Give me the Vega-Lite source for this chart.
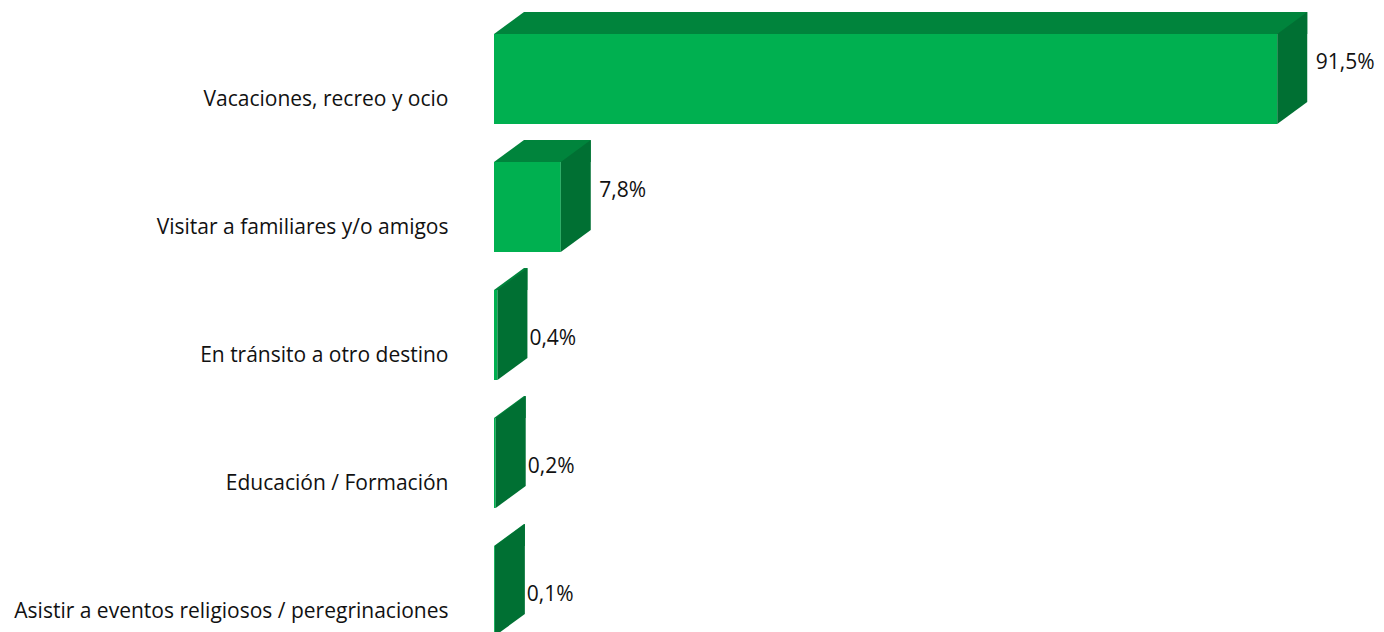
{
  "$schema": "https://vega.github.io/schema/vega-lite/v6.json",
  "width": 856,
  "height": 617,
  "autosize": {"type": "none"},
  "padding": {"left": 494, "top": 15, "right": 34, "bottom": 0},
  "background": "white",
  "config": {"view": {"stroke": null}},
  "data": {
    "values": [
      {"motivo": "Vacaciones, recreo y ocio", "pct": 91.5, "etiqueta": "91,5%"},
      {"motivo": "Visitar a familiares y/o amigos", "pct": 7.8, "etiqueta": "7,8%"},
      {"motivo": "En tránsito a otro destino", "pct": 0.4, "etiqueta": "0,4%"},
      {"motivo": "Educación / Formación", "pct": 0.2, "etiqueta": "0,2%"},
      {"motivo": "Asistir a eventos religiosos / peregrinaciones", "pct": 0.1, "etiqueta": "0,1%"}
    ]
  },
  "encoding": {
    "y": {
      "field": "motivo",
      "type": "nominal",
      "sort": null,
      "scale": {"range": [0, 640], "paddingInner": 0.296875, "paddingOuter": 0.1484375},
      "axis": {
        "title": null,
        "domain": false,
        "ticks": false,
        "tickSize": 0,
        "grid": false,
        "labelPadding": 46,
        "labelOffset": 21,
        "labelFont": "Open Sans",
        "labelFontSize": 21,
        "labelColor": "#111111",
        "labelLimit": 0
      }
    },
    "x": {"field": "pct", "type": "quantitative", "scale": {"domain": [0, 100]}, "axis": null}
  },
  "layer": [
    {
      "mark": {"type": "bar", "color": "#00843C", "size": 22, "yOffset": -56, "xOffset": 30, "x2Offset": 30}
    },
    {
      "mark": {"type": "point", "shape": "M0,0 L30,-22 L30,0 Z", "size": 4, "filled": true, "color": "#00843C", "opacity": 1, "strokeWidth": 0, "yOffset": -45},
      "encoding": {"x": {"datum": 0}}
    },
    {
      "mark": {"type": "bar", "color": "#00B050"}
    },
    {
      "mark": {"type": "point", "shape": "M0,0 L30,-22 L30,68 L0,90 Z", "size": 4, "filled": true, "color": "#007033", "opacity": 1, "strokeWidth": 0, "yOffset": -45}
    },
    {
      "transform": [{"filter": "datum.pct > 1"}],
      "mark": {"type": "text", "align": "left", "baseline": "middle", "dx": 38.5, "dy": -16, "font": "Open Sans", "fontSize": 21, "color": "#111111"},
      "encoding": {"text": {"field": "etiqueta"}}
    },
    {
      "transform": [{"filter": "datum.pct <= 1"}],
      "mark": {"type": "text", "align": "left", "baseline": "middle", "dx": 32, "dy": 3.5, "font": "Open Sans", "fontSize": 21, "color": "#111111"},
      "encoding": {"text": {"field": "etiqueta"}}
    }
  ]
}
